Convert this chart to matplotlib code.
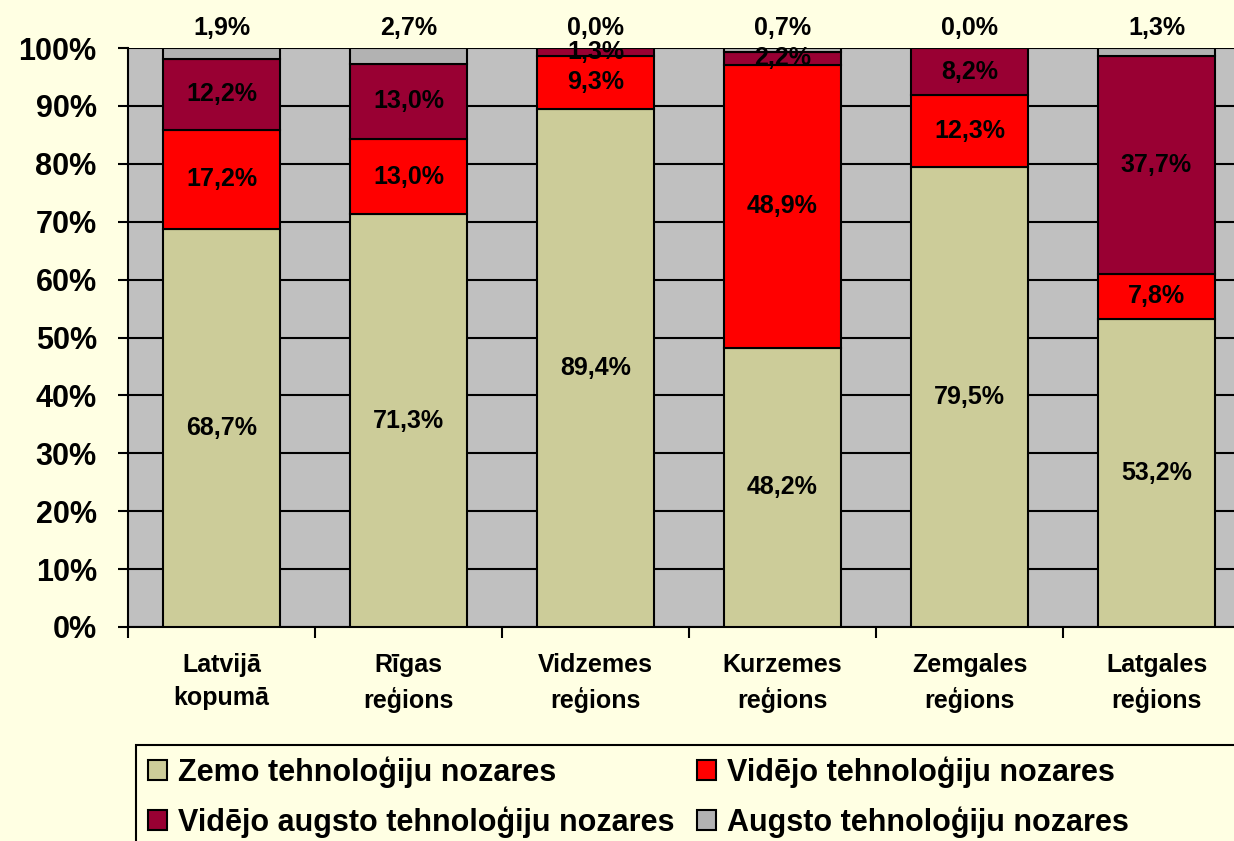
import matplotlib
matplotlib.use("Agg")
import matplotlib.pyplot as plt
import matplotlib.patches as patches
import numpy as np

plt.rcParams['font.family'] = ['Liberation Sans', 'DejaVu Sans']
plt.rcParams['font.weight'] = 'bold'

regions = ["Latvijā\nkopumā", "Rīgas\nreģions", "Vidzemes\nreģions",
           "Kurzemes\nreģions", "Zemgales\nreģions", "Latgales\nreģions"]
series = ["Zemo tehnoloģiju nozares", "Vidējo tehnoloģiju nozares",
          "Vidējo augsto tehnoloģiju nozares", "Augsto tehnoloģiju nozares"]
zemo = [68.7, 71.3, 89.4, 48.2, 79.5, 53.2]
videjo = [17.2, 13.0, 9.3, 48.9, 12.3, 7.8]
vid_augsto = [12.2, 13.0, 1.3, 2.2, 8.2, 37.7]
augsto = [1.9, 2.7, 0.0, 0.7, 0.0, 1.3]

colors = ["#CCCC99", "#FF0000", "#990033", "#B2B2B2"]
bg = "#FFFFE3"

fig = plt.figure(figsize=(12.34, 8.41), dpi=100, facecolor=bg)
ax = fig.add_axes([128/1234, 1 - 627/841, 1122/1234, 579/841])
ax.set_facecolor("#C0C0C0")

x = np.arange(len(regions))
bottom = np.zeros(len(regions))
bars = []
for vals, col, name in zip([zemo, videjo, vid_augsto, augsto], colors, series):
    b = ax.bar(x, vals, 0.63, bottom=bottom, color=col, edgecolor="black",
               linewidth=1.5, label=name, zorder=3)
    bars.append(b)
    bottom += np.array(vals)

def fmt(v):
    return ("%.1f%%" % v).replace(".", ",")

# labels inside segments (first three series)
bottom = np.zeros(len(regions))
for vals in [zemo, videjo, vid_augsto]:
    for i, v in enumerate(vals):
        ax.text(x[i], bottom[i] + v / 2, fmt(v), ha="center", va="center",
                fontsize=18, fontweight="bold", zorder=5)
    bottom += np.array(vals)
# top series labels above the plot
for i, v in enumerate(augsto):
    ax.annotate(fmt(v), (x[i], 100), xytext=(0, 14.5), textcoords="offset points",
                ha="center", va="center", fontsize=18, fontweight="bold",
                annotation_clip=False)

ax.set_xlim(-0.5, len(regions) - 0.5)
ax.set_ylim(0, 100)
ax.set_yticks(np.arange(0, 101, 10))
ax.set_yticklabels(["%d%%" % v for v in range(0, 101, 10)], fontsize=22,
                   fontweight="bold")
ax.yaxis.grid(True, color="black", linewidth=1.5, zorder=1)
ax.set_axisbelow(True)

ax.set_xticks(x)
ax.set_xticklabels(regions, fontsize=18, fontweight="bold", linespacing=1.45)
ax.set_xticks(np.arange(-0.5, len(regions), 1), minor=True)
ax.tick_params(axis="x", which="major", length=0, pad=19)
ax.tick_params(axis="x", which="minor", length=8, width=1.5, direction="out")
ax.tick_params(axis="y", length=7.5, width=1.5, direction="out", pad=15)

for s in ["top", "right"]:
    ax.spines[s].set_visible(False)
for s in ["left", "bottom"]:
    ax.spines[s].set_linewidth(1.5)

# legend frame runs past the right and bottom edges in the original
fig.patches.append(patches.Rectangle((136/1234, -0.1), 1.2, 1.1 - 745/841,
                                     transform=fig.transFigure, facecolor=bg,
                                     edgecolor="black", linewidth=1.5, zorder=0))

handles = [bars[0], bars[2], bars[1], bars[3]]
labels = [series[0], series[2], series[1], series[3]]
leg = fig.legend(handles, labels, loc="upper left", ncol=2,
                 bbox_to_anchor=(136/1234, 1 - 745/841),
                 prop={"weight": "bold", "size": 22},
                 frameon=False, handlelength=0.62, handleheight=0.62,
                 handletextpad=0.36, columnspacing=0.75, borderaxespad=0,
                 labelspacing=0.6, borderpad=0.38)

fig.savefig("out.png", dpi=100, facecolor=bg)
